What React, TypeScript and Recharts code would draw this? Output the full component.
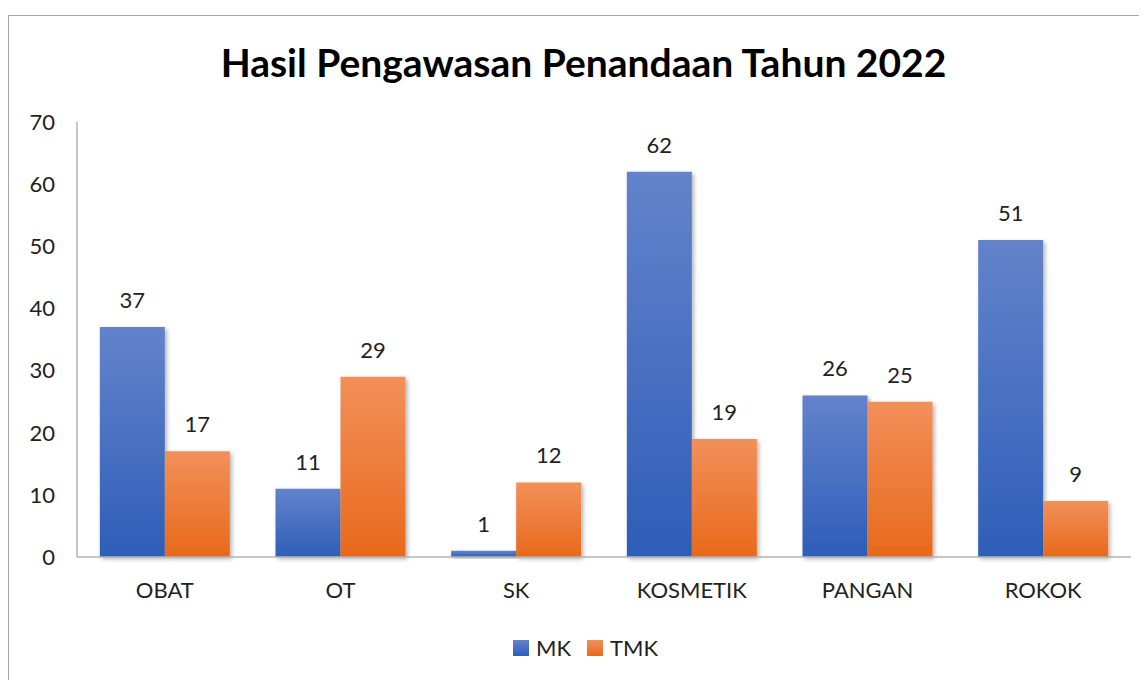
import React from "react";
import { BarChart, Bar, XAxis, YAxis, LabelList, Legend } from "recharts";

const categories = ["OBAT", "OT", "SK", "KOSMETIK", "PANGAN", "ROKOK"];
const mkValues = [37, 11, 1, 62, 26, 51];
const tmkValues = [17, 29, 12, 19, 25, 9];
const yTicks = [0, 10, 20, 30, 40, 50, 60, 70];

const data = categories.map((c, i) => ({ name: c, MK: mkValues[i], TMK: tmkValues[i] }));

const FONT = "Lato, 'Noto Sans', sans-serif";

const LegendContent = () => (
  <div style={{ display: "flex", justifyContent: "center", alignItems: "center", fontFamily: FONT, fontSize: 22, color: "#222", paddingLeft: 16 }}>
    <span style={{ display: "inline-block", width: 16, height: 16, background: "linear-gradient(#6383cb, #2e5eb8)", marginRight: 7 }} />
    <span style={{ marginRight: 16 }}>MK</span>
    <span style={{ display: "inline-block", width: 16, height: 16, background: "linear-gradient(#f2905a, #e8691b)", marginRight: 7 }} />
    <span>TMK</span>
  </div>
);

export default function App() {
  return (
    <div style={{ position: "relative", width: 1139, height: 672 }}>
      <div style={{ position: "absolute", left: 0, top: 7, width: 1200, height: 700, border: "1.5px solid #a6a6a6", boxSizing: "border-box" }} />
      <div style={{ position: "absolute", left: 0, top: 31, width: 1151, textAlign: "center", fontFamily: FONT, fontWeight: 700, fontSize: 39, color: "#000" }}>
        Hasil Pengawasan Penandaan Tahun 2022
      </div>
      <div style={{ position: "absolute", left: 0, top: 0 }}>
        <BarChart
          width={1139}
          height={672}
          data={data}
          margin={{ top: 114, right: 16, left: 0, bottom: 53 }}
          barCategoryGap="13%"
          barGap={0}
        >
          <defs>
            <linearGradient id="gMK" x1="0" y1="0" x2="0" y2="1">
              <stop offset="0%" stopColor="#6383cb" />
              <stop offset="100%" stopColor="#2e5eb8" />
            </linearGradient>
            <linearGradient id="gTMK" x1="0" y1="0" x2="0" y2="1">
              <stop offset="0%" stopColor="#f2905a" />
              <stop offset="100%" stopColor="#e8691b" />
            </linearGradient>
            <filter id="shadow" x="-20%" y="-20%" width="140%" height="140%">
              <feDropShadow dx="2" dy="2" stdDeviation="2" floodColor="#000" floodOpacity="0.3" />
            </filter>
          </defs>
          <XAxis
            dataKey="name"
            height={50}
            tickLine={false}
            axisLine={{ stroke: "#b3b3b3", strokeWidth: 1.5 }}
            tick={{ fill: "#222", fontSize: 22, fontFamily: FONT }}
            tickMargin={19}
          />
          <YAxis
            width={69}
            domain={[0, 70]}
            ticks={yTicks}
            interval={0}
            tickLine={false}
            axisLine={{ stroke: "#b3b3b3", strokeWidth: 1.5 }}
            tick={{ fill: "#222", fontSize: 22, fontFamily: FONT }}
            tickMargin={16}
          />
          <Legend verticalAlign="bottom" height={20} content={<LegendContent />} wrapperStyle={{ top: 626, left: 0, width: 1139 }} />
          <Bar dataKey="MK" fill="url(#gMK)" isAnimationActive={false} filter="url(#shadow)">
            <LabelList dataKey="MK" position="top" offset={19} style={{ fill: "#222", fontSize: 22, fontFamily: FONT }} />
          </Bar>
          <Bar dataKey="TMK" fill="url(#gTMK)" isAnimationActive={false} filter="url(#shadow)">
            <LabelList dataKey="TMK" position="top" offset={19} style={{ fill: "#222", fontSize: 22, fontFamily: FONT }} />
          </Bar>
        </BarChart>
      </div>
    </div>
  );
}
